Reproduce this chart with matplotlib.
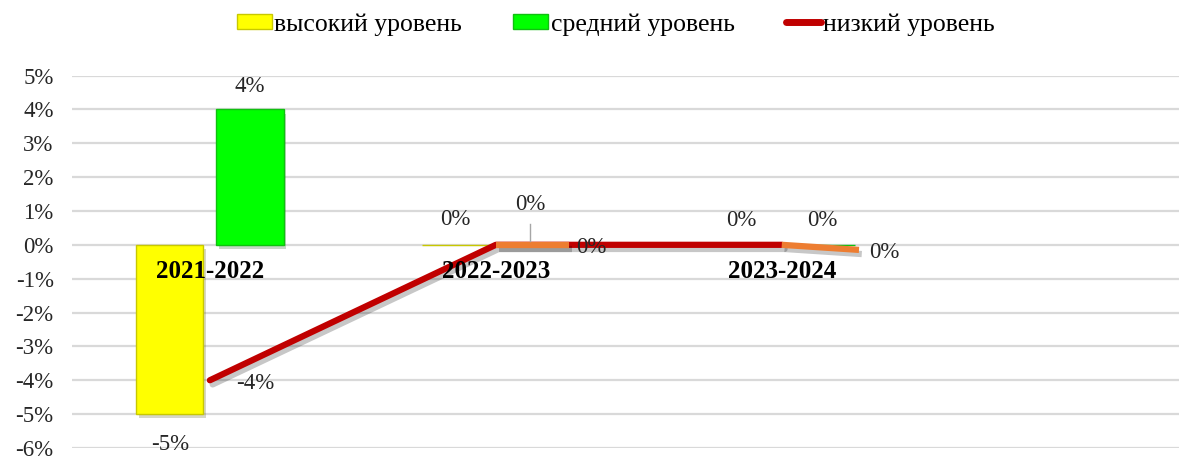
import matplotlib
matplotlib.use("Agg")
import matplotlib.pyplot as plt
import matplotlib.patheffects as pe
import matplotlib.transforms as mtransforms
from matplotlib.patches import Patch
from matplotlib.lines import Line2D

plt.rcParams['font.family'] = ['Liberation Serif', 'DejaVu Serif']

categories = ["2021-2022", "2022-2023", "2023-2024"]
high = [-5, 0, 0]          # высокий уровень
medium = [4, 0, 0]         # средний уровень
low = [-4, 0, 0]           # низкий уровень
extra_x = [[1, 1.255], [2, 2.27]]
extra_y = [[0, 0], [0, -0.15]]
yticks = list(range(-6, 6))

fig = plt.figure(figsize=(11.96, 4.59), dpi=100)
ax = fig.add_axes([0.060, 0.024, 0.926, 0.8115])
ax.set_xlim(-0.483, 3.39)
ax.set_ylim(-6, 5)
for s in ax.spines.values():
    s.set_visible(False)
ax.set_yticks(yticks)
ax.set_yticklabels([f"{t}%" for t in yticks], fontsize=16.5, color='#262626')
ax.tick_params(axis='y', length=0, pad=13)
ax.set_xticks([])
ax.yaxis.grid(True, color='#d9d9d9', linewidth=1.6)
ax.set_axisbelow(True)

shadow = [pe.SimplePatchShadow(offset=(2, -3), alpha=0.22), pe.Normal()]
lshadow = [pe.SimpleLineShadow(offset=(2, -3), alpha=0.22), pe.Normal()]

x = range(len(categories))
off, w = 0.14, 0.235
bh = ax.bar([i - off for i in x], high, width=w, color='#ffff00', edgecolor='#c8c800', linewidth=1.0, zorder=3)
bm = ax.bar([i + off for i in x], medium, width=w, color='#00ff00', edgecolor='#10c010', linewidth=1.0, zorder=3)
for b in list(bh) + list(bm):
    b.set_path_effects(shadow)

ax.plot(list(x), low, color='#c00000', linewidth=4.5, solid_capstyle='round', zorder=4, path_effects=lshadow)
for xs, ys in zip(extra_x, extra_y):
    ax.plot(xs, ys, color='#ed7d31', linewidth=4.5, solid_capstyle='butt', zorder=5, path_effects=lshadow)

fs = 16.5
for i, c in enumerate(categories):
    t = ax.text(i, 0, c, ha='center', va='center', fontsize=18, fontweight='bold', zorder=6)
    t.set_transform(ax.transData + mtransforms.ScaledTranslation(0, -27/100, fig.dpi_scale_trans))

def lab(xv, yv, s, dx, dy):
    ax.annotate(s, (xv, yv), xytext=(dx, dy), textcoords='offset pixels', ha='center', va='center',
                fontsize=fs, color='#262626', zorder=7)

lab(0 - off, -5, "-5%", 0, -30)
lab(0 + off, 4, "4%", 0, 23)
lab(0, -4, "-4%", 45, -3)
lab(1 - off, 0, "0%", 0, 25)
lab(1 + off, 0, "0%", -6, 40)
ax.plot([1 + off - 0.02, 1 + off - 0.02], [0.1, 0.6], color='#a6a6a6', linewidth=1, zorder=6)
lab(1.255, 0, "0%", 23, -3)
lab(2 - off, 0, "0%", 0, 24)
lab(2 + off, 0, "0%", 0, 24)
lab(2.27, -0.15, "0%", 25, -3)

handles = [Patch(facecolor='#ffff00', edgecolor='#c8c800'),
           Patch(facecolor='#00ff00', edgecolor='#10c010'),
           Line2D([0], [0], color='#c00000', linewidth=5, solid_capstyle='round')]
labels = ["высокий уровень", "средний уровень", "низкий уровень"]
fig.legend(handles, labels, loc='center', bbox_to_anchor=(0.515, 0.947), ncol=3, frameon=False,
           fontsize=18.5, handlelength=1.35, handleheight=0.55, handletextpad=0.1, columnspacing=2.0)

fig.savefig("out.png", dpi=100)
